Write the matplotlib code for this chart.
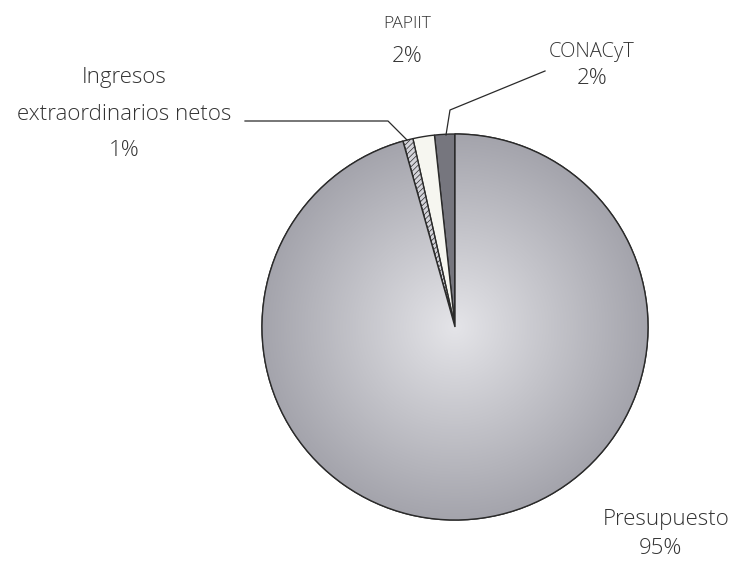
import matplotlib.pyplot as plt
import numpy as np
from matplotlib.colors import LinearSegmentedColormap
from matplotlib.patches import Wedge

plt.rcParams['font.family'] = ['Open Sans', 'DejaVu Sans']
plt.rcParams['hatch.color'] = '#aeaeb6'
plt.rcParams['hatch.linewidth'] = 0.5

# --- data (shares of income, %) ---
labels = ['CONACyT', 'PAPIIT', 'Ingresos\nextraordinarios netos', 'Presupuesto']
values = [1.7, 1.8, 0.85, 95.65]
shown = ['2%', '2%', '1%', '95%']
colours = ['#76767e', '#f6f6f0', '#d4d4da', '#a5a5ad']

W, H = 732, 564
fig = plt.figure(figsize=(W / 100, H / 100), dpi=100)
ax = fig.add_axes([0, 0, 1, 1])

cx, cy, r = 455, H - 327, 193
wedges, _ = ax.pie(values, colors=colours, startangle=90, counterclock=True,
                   center=(cx, cy), radius=r, frame=True,
                   wedgeprops=dict(edgecolor='#2a2a2a', linewidth=1.0))
wedges[2].set_hatch('//////')

# radial shading on the big slice
grad = LinearSegmentedColormap.from_list('g', ['#e4e4e8', '#c4c4ca', '#a4a4ac'])
yy, xx = np.mgrid[-1:1:400j, -1:1:400j]
rr = np.clip(np.hypot(xx, yy), 0, 1)
img = ax.imshow(rr, cmap=grad, extent=(cx - r, cx + r, cy - r, cy + r),
                origin='lower', zorder=wedges[3].get_zorder() + 0.1)
img.set_clip_path(wedges[3])
ax.add_patch(Wedge((cx, cy), r, wedges[3].theta1, wedges[3].theta2,
                   facecolor='none', edgecolor='#2a2a2a', lw=1.0,
                   zorder=img.get_zorder() + 0.1))

ax.set_xlim(0, W)
ax.set_ylim(0, H)
ax.set_aspect('equal')
ax.axis('off')

tc = '#333333'
fw = 'light'
big = 16
# CONACyT
ax.text(592, H - 52, labels[0], ha='center', va='center', fontsize=14.5, color=tc,
        fontweight=fw)
ax.text(592, H - 78, shown[0], ha='center', va='center', fontsize=big, color=tc,
        fontweight=fw)
ax.plot([545, 450, 446], [H - 71, H - 110, H - 135], color='#2a2a2a', lw=0.9)
# PAPIIT
ax.text(407, H - 24, labels[1], ha='center', va='center', fontsize=12.5, color=tc,
        fontweight=fw)
ax.text(407, H - 57, shown[1], ha='center', va='center', fontsize=big, color=tc,
        fontweight=fw)
# Ingresos
l1, l2 = labels[2].split('\n')
ax.text(124, H - 78, l1, ha='center', va='center', fontsize=big, color=tc,
        fontweight=fw)
ax.text(124, H - 114, l2, ha='center', va='center', fontsize=big, color=tc,
        fontweight=fw)
ax.text(124, H - 150, shown[2], ha='center', va='center', fontsize=big, color=tc,
        fontweight=fw)
ax.plot([245, 388, 407], [H - 121, H - 121, H - 140], color='#2a2a2a', lw=0.9)
# Presupuesto
ax.text(666, H - 520, labels[3], ha='center', va='center', fontsize=big, color=tc,
        fontweight=fw)
ax.text(660, H - 549, shown[3], ha='center', va='center', fontsize=big, color=tc,
        fontweight=fw)

fig.savefig('out.png', dpi=100, facecolor='white')
